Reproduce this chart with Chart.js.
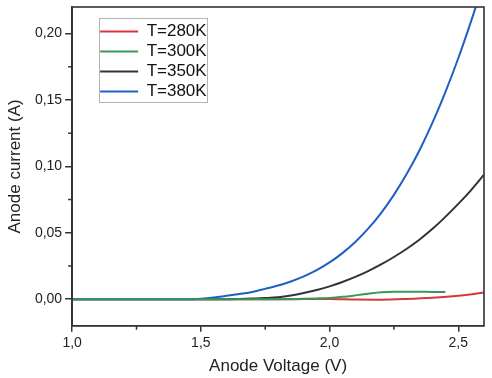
<!DOCTYPE html>
<html><head><meta charset="utf-8">
<script src="https://cdn.jsdelivr.net/npm/chart.js@4.4.1/dist/chart.umd.min.js"></script>
<style>html,body{margin:0;padding:0;background:#fff}#wrap{width:492px;height:378px;position:relative}</style>
</head><body><div id="wrap"><canvas id="c" width="492" height="378"></canvas></div>
<script>
// ---- data ----
const seriesNames = ['T=280K', 'T=300K', 'T=350K', 'T=380K'];

const v280 = [1.0, 1.5, 1.8, 1.9, 2.0, 2.1, 2.2, 2.3, 2.4, 2.5, 2.6];
const i280 = [0, 0, 0, 0.0001, 0.0002, -0.0002, -0.0003, 0.0002, 0.0011, 0.0026, 0.0050];

const v300 = [1.0, 1.5, 1.8, 1.9, 1.95, 2.0, 2.05, 2.1, 2.15, 2.2, 2.25, 2.3, 2.35, 2.4, 2.45];
const i300 = [0, 0, 0, 0.0003, 0.0006, 0.0010, 0.0018, 0.0029, 0.0041, 0.0052, 0.0056, 0.0056, 0.0056, 0.0055, 0.0055];

const v350 = [1.0, 1.6, 1.65, 1.7, 1.75, 1.8, 1.85, 1.9, 1.95, 2.0, 2.05, 2.1, 2.15, 2.2, 2.25, 2.3, 2.35, 2.4, 2.45, 2.5, 2.55, 2.6];
const i350 = [0, 0, 0.0002, 0.0005, 0.0009, 0.0015, 0.0028, 0.0047, 0.0070, 0.0097, 0.0130, 0.0168, 0.0212, 0.0262, 0.0318, 0.0380, 0.0450, 0.0530, 0.0620, 0.0718, 0.0822, 0.0937];

const v380 = [1.0, 1.45, 1.5, 1.55, 1.6, 1.65, 1.7, 1.75, 1.8, 1.85, 1.9, 1.95, 2.0, 2.05, 2.1, 2.15, 2.2, 2.25, 2.3, 2.35, 2.4, 2.45, 2.5, 2.55, 2.6];
const i380 = [0, 0, 0.0004, 0.0013, 0.0026, 0.0040, 0.0055, 0.0078, 0.0103, 0.0134, 0.0172, 0.0219, 0.0277, 0.0347, 0.0431, 0.0531, 0.0649, 0.0786, 0.0944, 0.1124, 0.1329, 0.1559, 0.1814, 0.2094, 0.2390];

const xTicks = [1.0, 1.5, 2.0, 2.5];
const xMinorTicks = [1.25, 1.75, 2.25];
const yTicks = [0, 0.05, 0.10, 0.15, 0.20];
const yMinorTicks = [0.025, 0.075, 0.125, 0.175];

// ---- styling ----
const FONT = "'Liberation Sans', Arial, sans-serif";
const colors = ['#d8363d', '#36985a', '#333333', '#1e5fc6'];
const drawOrder = [3, 0, 2, 1]; // green drawn on top
const pts = (xs, ys) => xs.map((x, k) => ({x: x, y: ys[k]}));
const seriesV = [v280, v300, v350, v380];
const seriesI = [i280, i300, i350, i380];

const datasets = seriesNames.map((n, k) => ({
  label: n,
  data: pts(seriesV[k], seriesI[k]),
  borderColor: colors[k],
  backgroundColor: colors[k],
  borderWidth: 2,
  pointRadius: 0,
  fill: false,
  cubicInterpolationMode: 'monotone',
  order: drawOrder[k]
}));

const fmt = (v, d) => v.toFixed(d).replace('.', ',');
const noPad = s => { s.paddingTop = 0; s.paddingBottom = 0; s.paddingLeft = 0; s.paddingRight = 0; };

const framePlugin = {
  id: 'frame',
  afterLayout(chart) {
    const lg = chart.legend, ca = chart.chartArea;
    if (!lg) return;
    lg.left = ca.left + 25; lg.top = ca.top + 13;
    lg.right = lg.left + lg.width; lg.bottom = lg.top + lg.height;
  },
  afterDraw(chart) {
    const {ctx, chartArea: ca, scales} = chart;
    ctx.save();
    // minor ticks
    ctx.strokeStyle = '#333'; ctx.lineWidth = 1.5;
    ctx.beginPath();
    xMinorTicks.forEach(v => { const p = scales.x.getPixelForValue(v); ctx.moveTo(p, ca.bottom); ctx.lineTo(p, ca.bottom + 4); });
    yMinorTicks.forEach(v => { const p = scales.y.getPixelForValue(v); ctx.moveTo(ca.left, p); ctx.lineTo(ca.left - 4, p); });
    ctx.stroke();
    // box frame
    ctx.strokeStyle = '#333'; ctx.lineWidth = 1.6;
    ctx.strokeRect(ca.left, ca.top, ca.right - ca.left, ca.bottom - ca.top);
    // legend border
    const lg = chart.legend;
    if (lg) {
      ctx.strokeStyle = '#b4b4b4'; ctx.lineWidth = 1;
      ctx.strokeRect(Math.round(lg.left + 2) + 0.5, Math.round(lg.top - 2) + 0.5, 108, 84);
    }
    ctx.restore();
  }
};

new Chart(document.getElementById('c'), {
  type: 'line',
  data: { datasets: datasets },
  options: {
    responsive: false,
    animation: false,
    devicePixelRatio: 1,
    layout: { padding: { left: 0, top: 7, right: 8, bottom: 0 } },
    scales: {
      x: {
        type: 'linear', min: 1.0, max: 2.6,
        afterBuildTicks: ax => { ax.ticks = xTicks.map(v => ({value: v})); },
        afterFit: noPad,
        ticks: { callback: v => fmt(v, 1), font: {family: FONT, size: 14}, color: '#222', padding: 3, maxRotation: 0 },
        grid: { drawOnChartArea: false, tickLength: 6, color: '#333', lineWidth: 1.5 },
        border: { color: '#333', width: 1.6 },
        title: { display: true, text: 'Anode Voltage (V)', font: {family: FONT, size: 17}, color: '#222', padding: {top: 2, bottom: 1} }
      },
      y: {
        type: 'linear', min: -0.02, max: 0.22,
        afterBuildTicks: ax => { ax.ticks = yTicks.map(v => ({value: v})); },
        afterFit: noPad,
        ticks: { callback: v => fmt(v, 2), font: {family: FONT, size: 14}, color: '#222', padding: 3 },
        grid: { drawOnChartArea: false, tickLength: 7, color: '#333', lineWidth: 1.5 },
        border: { color: '#333', width: 1.6 },
        title: { display: true, text: 'Anode current (A)', font: {family: FONT, size: 17}, color: '#222', padding: {top: 5, bottom: 6.5} }
      }
    },
    plugins: {
      legend: {
        position: 'chartArea', align: 'start',
        labels: {
          usePointStyle: true, pointStyle: 'line', pointStyleWidth: 38,
          font: {family: FONT, size: 17}, color: '#111', padding: 3,
          sort: (a, b) => a.datasetIndex - b.datasetIndex
        }
      },
      tooltip: { enabled: false }
    }
  },
  plugins: [framePlugin]
});
</script>
</body></html>
